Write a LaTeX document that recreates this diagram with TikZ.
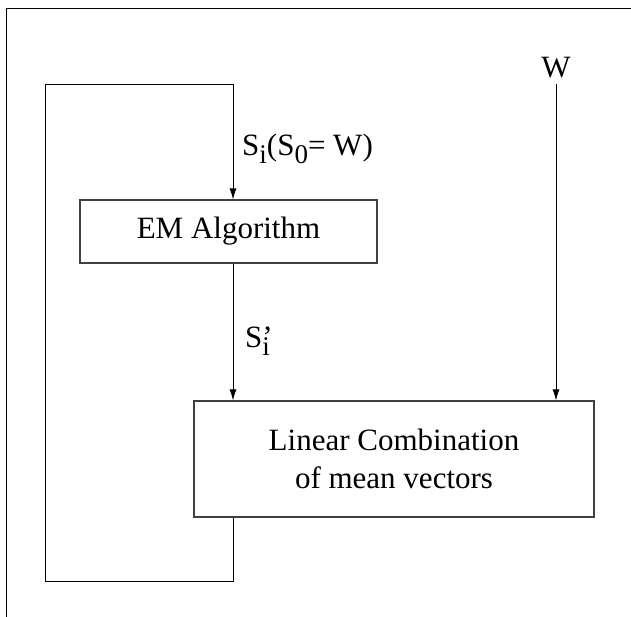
\documentclass[tikz,border=0pt]{standalone}
\usepackage{fontspec}
\setmainfont{Liberation Serif}
\usetikzlibrary{arrows.meta}
\newcommand{\lowi}[1]{\raisebox{-0.28em}{\fontsize{27}{27}\selectfont #1}}
\begin{document}
\begin{tikzpicture}[x=1pt,y=-1pt,
  blk/.style={draw=black!75,line width=1.1pt,minimum width=#1,inner sep=0pt},
  conn/.style={line width=0.9pt},
  arr/.style={conn,-{Latex[length=11pt,width=7pt]}},
  lbl/.style={font=\fontsize{31}{38}\selectfont,inner sep=0pt}]
\useasboundingbox (0,0) rectangle (631,616);
\draw[line width=1pt] (6,620) -- (6,8) -- (635,8);
\node[blk=297pt,minimum height=63pt,lbl] (em) at (228.5,231.5) {EM Algorithm};
\node[blk=400pt,minimum height=116pt,lbl,align=center] (lin) at (394,459) {Linear Combination\\of mean vectors};
\node[lbl,anchor=base] (w) at (556,77) {W};
\coordinate (wtop) at (556,84);
\coordinate (l1) at (233,581);
\coordinate (l2) at (45,581);
\coordinate (l3) at (45,84);
\coordinate (l4) at (233,84);
\draw[conn] (lin.south -| l1) -- (l1) -- (l2) -- (l3) -- (l4);
\draw[arr] (l4) -- (em.north -| l4);
\draw[arr] (em.south -| l4) -- (lin.north -| l4);
\draw[arr] (wtop) -- (lin.north -| wtop);
\node[lbl,anchor=base west] (si) at (242,155) {S\lowi{i}(S\lowi{0}= W)};
\node[lbl,anchor=base west] (sp) at (245,347) {S\rlap{’}\lowi{i}};
\end{tikzpicture}
\end{document}
